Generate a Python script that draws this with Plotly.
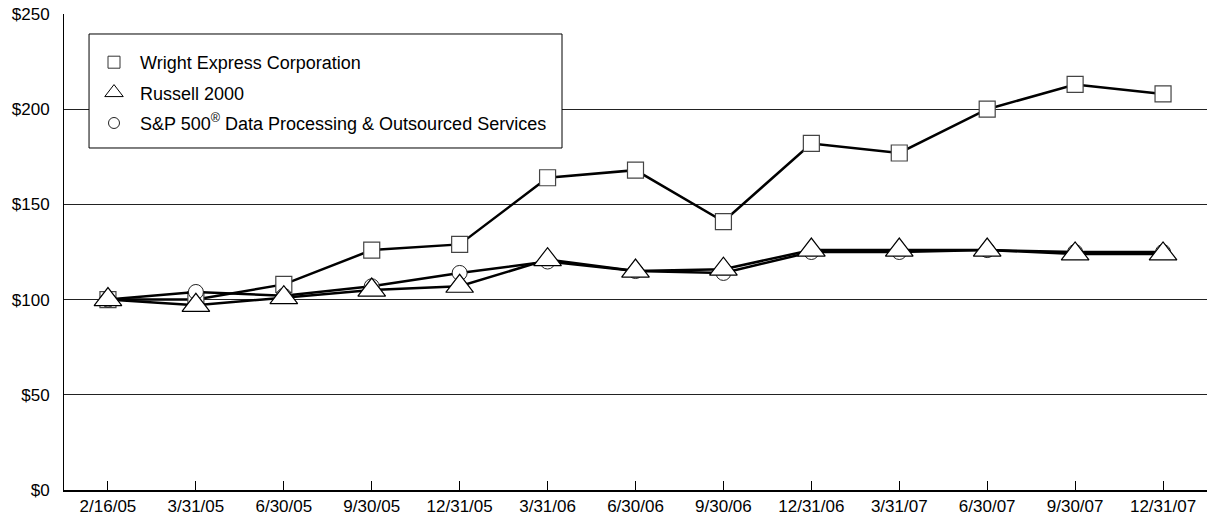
import plotly.graph_objects as go

dates = ["2/16/05", "3/31/05", "6/30/05", "9/30/05", "12/31/05", "3/31/06", "6/30/06",
         "9/30/06", "12/31/06", "3/31/07", "6/30/07", "9/30/07", "12/31/07"]
wright_express = [100, 100, 108, 126, 129, 164, 168, 141, 182, 177, 200, 213, 208]
russell_2000 = [100, 97, 101, 105, 107, 121, 115, 116, 126, 126, 126, 124, 124]
sp500_dp = [100, 104, 102, 107, 114, 120, 115, 114, 125, 125, 126, 125, 125]
y_ticks = [0, 50, 100, 150, 200, 250]
y_tick_labels = ["$0", "$50", "$100", "$150", "$200", "$250"]

names = ["Wright Express Corporation", "Russell 2000",
         "S&P 500<sup>®</sup> Data Processing & Outsourced Services"]

FONT = "Liberation Sans, Arial, sans-serif"
fig = go.Figure()

line = dict(color="black", width=2.5)

# data traces (draw order: squares, circles, triangles)
fig.add_trace(go.Scatter(x=dates, y=wright_express, mode="lines+markers", line=line,
                         marker=dict(symbol="square", size=16, color="white",
                                     line=dict(color="#444", width=1.2)),
                         showlegend=False))
fig.add_trace(go.Scatter(x=dates, y=sp500_dp, mode="lines+markers", line=line,
                         marker=dict(symbol="circle", size=15, color="white",
                                     line=dict(color="#222", width=1)),
                         showlegend=False))
fig.add_trace(go.Scatter(x=dates, y=russell_2000, mode="lines+markers", line=line,
                         marker=dict(symbol="triangle-up", size=24, color="white",
                                     line=dict(color="black", width=1.2)),
                         showlegend=False))

# legend entries
leg_markers = [("square", 12, "#333"), ("triangle-up", 23, "black"), ("circle", 11, "#222")]
for i, (nm, (sym, sz, lc)) in enumerate(zip(names, leg_markers)):
    fig.add_trace(go.Scatter(x=[None], y=[None], mode="markers", name=nm,
                             legendgroup=f"g{i}", legendrank=i + 1,
                             marker=dict(symbol=sym, size=sz, color="white",
                                         line=dict(color=lc, width=1))))

# legend frame
fig.add_shape(type="rect", xref="paper", yref="paper",
              x0=0.0219, x1=0.4357, y0=0.7185, y1=0.958,
              fillcolor="white", line=dict(color="black", width=1), layer="above")

fig.update_layout(
    width=1207, height=517,
    margin=dict(l=64, r=0, t=14, b=27),
    plot_bgcolor="white", paper_bgcolor="white",
    font=dict(family=FONT, size=17, color="black"),
    legend=dict(x=0.021, y=0.937, xanchor="left", yanchor="top",
                bgcolor="rgba(0,0,0,0)", borderwidth=0,
                font=dict(size=18, family=FONT), tracegroupgap=4,
                itemsizing="trace", itemwidth=42),
    xaxis=dict(type="category", range=[-0.5, 12.5], showgrid=False,
               showline=True, linecolor="black", linewidth=2,
               ticks="inside", ticklen=9, tickcolor="black", tickwidth=1,
               tickfont=dict(size=17), fixedrange=True),
    yaxis=dict(range=[0, 250], tickvals=y_ticks, ticktext=y_tick_labels,
               showgrid=True, gridcolor="#222", gridwidth=1,
               showline=True, linecolor="black", linewidth=1,
               zeroline=False, ticks="", ticklabelstandoff=10,
               tickfont=dict(size=17), fixedrange=True),
)

fig.write_html("out.html")
